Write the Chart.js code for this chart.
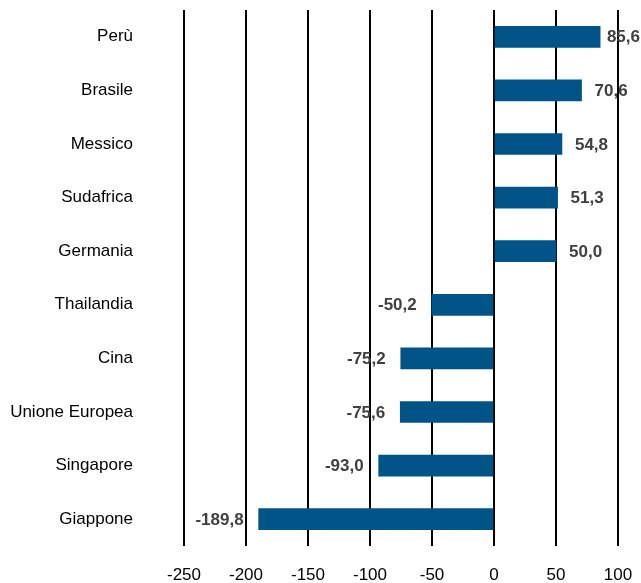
<!DOCTYPE html>
<html>
<head>
<meta charset="utf-8">
<script src="https://cdn.jsdelivr.net/npm/chart.js@4"></script>
<style>
  html, body { margin: 0; padding: 0; background: #fff; }
  canvas { display: block; }
</style>
</head>
<body>
<canvas id="chart1" width="641" height="583"></canvas>
<script>
const categories = ['Perù', 'Brasile', 'Messico', 'Sudafrica', 'Germania', 'Thailandia', 'Cina', 'Unione Europea', 'Singapore', 'Giappone'];
const values = [85.6, 70.6, 54.8, 51.3, 50.0, -50.2, -75.2, -75.6, -93.0, -189.8];
const xTicks = [-250, -200, -150, -100, -50, 0, 50, 100];

const fontFamily = '"Liberation Sans", Arial, sans-serif';

// value labels next to the bar ends
const barLabels = {
  id: 'barLabels',
  afterDatasetsDraw(chart) {
    const c = chart.ctx;
    const meta = chart.getDatasetMeta(0);
    c.save();
    c.font = 'bold 17px ' + fontFamily;
    c.fillStyle = '#404040';
    c.textBaseline = 'middle';
    meta.data.forEach(function(bar, i) {
      const v = values[i];
      const txt = v.toFixed(1).replace('.', ',');
      if (v >= 0) {
        c.textAlign = 'left';
        const w = c.measureText(txt).width;
        const x = Math.min(bar.x + 13, chart.width - 1 - w);
        c.fillText(txt, x, bar.y + 1);
      } else {
        c.textAlign = 'right';
        c.fillText(txt, bar.x - 15, bar.y + 1);
      }
    });
    c.restore();
  }
};

new Chart(document.getElementById('chart1'), {
  type: 'bar',
  data: {
    labels: categories,
    datasets: [{
      data: values,
      backgroundColor: '#005488',
      barThickness: 21
    }]
  },
  options: {
    indexAxis: 'y',
    responsive: false,
    animation: false,
    layout: { padding: { top: 10, right: 23, bottom: 0, left: 0 } },
    plugins: {
      legend: { display: false },
      tooltip: { enabled: false }
    },
    scales: {
      x: {
        min: -250,
        max: 100,
        afterBuildTicks: function(scale) {
          scale.ticks = xTicks.map(function(v) { return { value: v }; });
        },
        afterFit: function(scale) {
          scale.height = 37;
          scale.paddingLeft = 0;
          scale.paddingRight = 0;
        },
        grid: { color: '#000', lineWidth: 2, drawTicks: false },
        border: { display: false },
        ticks: {
          color: '#000',
          padding: 19,
          maxRotation: 0,
          font: { family: fontFamily, size: 17 },
          callback: function(v) { return String(v); }
        }
      },
      y: {
        grid: { display: false, drawTicks: false },
        border: { display: false },
        afterFit: function(scale) {
          scale.width = 184;
          scale.paddingTop = 0;
          scale.paddingBottom = 0;
        },
        ticks: {
          color: '#000',
          padding: 51,
          font: { family: fontFamily, size: 17 }
        }
      }
    }
  },
  plugins: [barLabels]
});
</script>
</body>
</html>
